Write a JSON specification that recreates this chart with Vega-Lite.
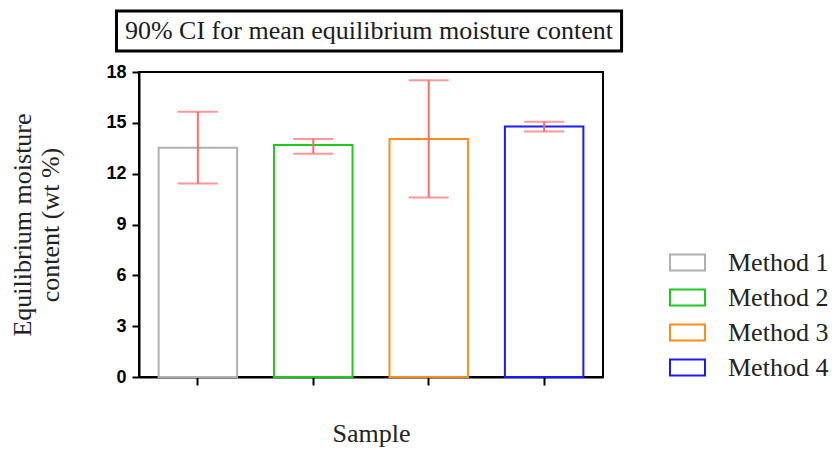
{
  "$schema": "https://vega.github.io/schema/vega-lite/v6.json",
  "padding": {"left": 8, "top": 9, "right": 5, "bottom": 5},
  "background": "white",
  "config": {"view": {"stroke": null}, "font": "Liberation Serif, serif"},
  "spacing": 21,
  "bounds": "flush",
  "vconcat": [
    {
      "width": 464,
      "height": 40,
      "data": {"values": [{"title": "90% CI for mean equilibrium moisture content", "x0": -0.0485, "x1": 1.04, "xc": 0.4957}]},
      "layer": [
        {
          "mark": {"type": "rect", "fill": "white", "stroke": "black", "strokeWidth": 3},
          "encoding": {
            "x": {"field": "x0", "type": "quantitative", "scale": {"domain": [0, 1]}, "axis": null},
            "x2": {"field": "x1"}
          }
        },
        {
          "mark": {"type": "text", "fontSize": 26, "font": "Liberation Serif, serif", "color": "#1a1a1a"},
          "encoding": {
            "x": {"field": "xc", "type": "quantitative", "scale": {"domain": [0, 1]}, "axis": null},
            "text": {"field": "title"}
          }
        }
      ]
    },
    {
      "width": 464,
      "height": 305,
      "view": {"stroke": "black", "strokeWidth": 2},
      "data": {"values": [
        {"method": "Method 1", "mean": 13.53, "lo": 11.42, "hi": 15.65},
        {"method": "Method 2", "mean": 13.69, "lo": 13.18, "hi": 14.04},
        {"method": "Method 3", "mean": 14.04, "lo": 10.59, "hi": 17.52},
        {"method": "Method 4", "mean": 14.79, "lo": 14.49, "hi": 15.06}
      ]},
      "encoding": {
        "x": {
          "field": "method", "type": "nominal",
          "scale": {"paddingInner": 0.32, "paddingOuter": 0.17},
          "title": "Sample",
          "axis": {
            "labels": false, "ticks": true, "tickSize": 8, "tickWidth": 2, "tickColor": "black",
            "domainColor": "black", "domainWidth": 2,
            "titleFont": "Liberation Serif, serif", "titleFontSize": 26, "titleFontWeight": "normal", "titleColor": "#222",
            "titlePadding": 34
          }
        }
      },
      "layer": [
        {
          "mark": {"type": "bar", "fill": "white", "strokeWidth": 2},
          "encoding": {
            "y": {
              "field": "mean", "type": "quantitative",
              "scale": {"domain": [0, 18], "nice": false},
              "title": ["Equilibrium moisture", "content (wt %)"],
              "axis": {
                "values": [0, 3, 6, 9, 12, 15, 18], "grid": false,
                "labelFont": "Liberation Sans, sans-serif", "labelFontSize": 18, "labelFontWeight": "bold", "labelColor": "black",
                "labelPadding": 6,
                "tickColor": "black", "tickWidth": 2, "tickSize": 7,
                "domainColor": "black", "domainWidth": 2,
                "titleFont": "Liberation Serif, serif", "titleFontSize": 26, "titleFontWeight": "normal", "titleColor": "#222",
                "titleLineHeight": 28, "titlePadding": 42
              }
            },
            "stroke": {
              "field": "method", "type": "nominal",
              "scale": {"domain": ["Method 1", "Method 2", "Method 3", "Method 4"], "range": ["#b0b0b0", "#1ec81e", "#ff8c1a", "#1a1aff"]},
              "legend": {
                "title": null, "orient": "none", "legendX": 530, "legendY": 233,
                "padding": 0, "symbolOffset": 0,
                "symbolType": "M-1,-0.46H1V0.46H-1Z", "symbolSize": 1225, "symbolStrokeWidth": 2, "symbolFillColor": "white",
                "labelFont": "Liberation Serif, serif", "labelFontSize": 26, "labelColor": "#222", "labelOffset": 22,
                "rowPadding": 3
              }
            }
          }
        },
        {
          "mark": {"type": "rule", "color": "#ff6b6b", "strokeWidth": 2},
          "encoding": {"y": {"field": "lo", "type": "quantitative"}, "y2": {"field": "hi"}}
        },
        {
          "mark": {"type": "tick", "color": "#ff6b6b", "thickness": 2, "size": 40, "orient": "horizontal"},
          "encoding": {"y": {"field": "lo", "type": "quantitative"}}
        },
        {
          "mark": {"type": "tick", "color": "#ff6b6b", "thickness": 2, "size": 40, "orient": "horizontal"},
          "encoding": {"y": {"field": "hi", "type": "quantitative"}}
        }
      ]
    }
  ]
}
